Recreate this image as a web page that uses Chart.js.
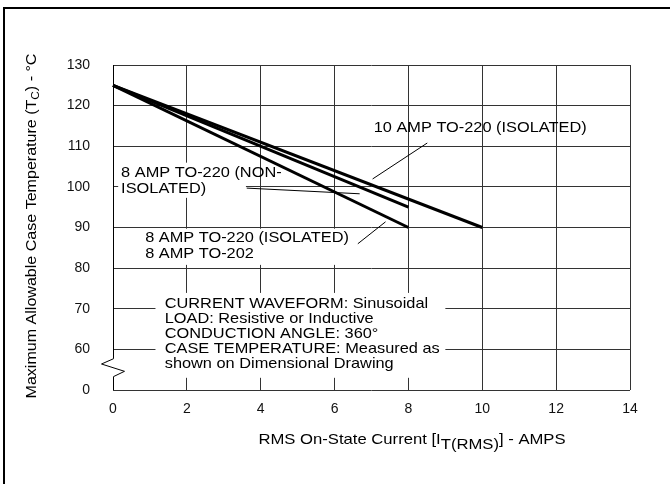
<!DOCTYPE html>
<html>
<head>
<meta charset="utf-8">
<script src="https://cdn.jsdelivr.net/npm/chart.js@4"></script>
<style>
  html, body { margin: 0; padding: 0; background: #fff; }
  #wrap { width: 670px; height: 484px; }
</style>
</head>
<body>
<div id="wrap"><canvas id="chart" width="670" height="484"></canvas></div>
<script>
// ---- data ----
const amps8 = [0, 8];
const amps10 = [0, 10];
const temp8Isolated = [125, 90];     // 8 AMP TO-220 (ISOLATED) / TO-202
const temp8NonIsolated = [125, 95];  // 8 AMP TO-220 (NON-ISOLATED)
const temp10Isolated = [125, 90];    // 10 AMP TO-220 (ISOLATED)
const xTicks = [0, 2, 4, 6, 8, 10, 12, 14];
const yTicks = [50, 60, 70, 80, 90, 100, 110, 120, 130];
const yTickLabels = ['0', '60', '70', '80', '90', '100', '110', '120', '130']; // axis is broken below 60

const notes = [
  'CURRENT WAVEFORM: Sinusoidal',
  'LOAD: Resistive or Inductive',
  'CONDUCTION ANGLE: 360°',
  'CASE TEMPERATURE: Measured as',
  'shown on Dimensional Drawing'
];

const FONT = '"Liberation Sans", Arial, sans-serif';

function toPoints(xs, ys) {
  return xs.map((x, i) => ({ x: x, y: ys[i] }));
}

// stretched text helper (reference type is a bit wider than Arial)
function stretchText(ctx, text, x, y, sx) {
  ctx.save();
  ctx.translate(x, y);
  ctx.scale(sx, 1);
  ctx.fillText(text, 0, 0);
  ctx.restore();
}

/** ---------------- labels, boxes, axis break ---------------- **/
const decorPlugin = {
  id: 'decor',
  beforeDatasetsDraw(chart) {
    const { ctx, scales: { x, y } } = chart;
    const px = v => x.getPixelForValue(v);
    const py = v => y.getPixelForValue(v);

    // white boxes behind labels (hide grid)
    ctx.save();
    ctx.fillStyle = '#fff';
    [[0.14, 105.96, 3.6, 97.3], [0.74, 89.7, 6.47, 80.8], [1.15, 73.9, 9.0, 53.0]].forEach(b => {
      ctx.fillRect(px(b[0]), py(b[1]), px(b[2]) - px(b[0]), py(b[3]) - py(b[1]));
    });

    // left axis with break
    ctx.strokeStyle = '#000';
    ctx.lineWidth = 1;
    ctx.beginPath();
    const ax = Math.round(px(0)) + 0.5;
    ctx.moveTo(ax, py(130));
    ctx.lineTo(ax, py(57.7));
    ctx.lineTo(ax - 12, py(56.4));
    ctx.lineTo(ax + 11, py(54.6));
    ctx.lineTo(ax, py(53.3));
    ctx.lineTo(ax, py(50));
    ctx.stroke();

    // leader lines
    [[8.51, 110.8, 7.03, 101.95], [3.62, 99.7, 6.68, 98.3], [6.63, 86.0, 7.38, 91.4]].forEach(l => {
      ctx.beginPath();
      ctx.moveTo(px(l[0]), py(l[1]));
      ctx.lineTo(px(l[2]), py(l[3]));
      ctx.stroke();
    });

    // label text
    ctx.fillStyle = '#000';
    ctx.font = '15px ' + FONT;
    ctx.textBaseline = 'middle';
    ctx.textAlign = 'left';
    const sx = 1.09;
    stretchText(ctx, '10 AMP TO-220 (ISOLATED)', px(7.06), py(114.6), sx);
    stretchText(ctx, '8 AMP TO-220 (NON-', px(0.22), py(103.5), sx);
    stretchText(ctx, 'ISOLATED)', px(0.22), py(99.6), sx);
    stretchText(ctx, '8 AMP TO-220 (ISOLATED)', px(0.87), py(87.5), sx);
    stretchText(ctx, '8 AMP TO-202', px(0.87), py(83.6), sx);
    notes.forEach((t, i) => stretchText(ctx, t, px(1.4), py(71.2) + i * 15, sx));
    ctx.restore();
  },
  afterDraw(chart) {
    const { ctx } = chart;
    ctx.save();
    // outer frame (left + top only visible)
    ctx.strokeStyle = '#000';
    ctx.lineWidth = 2;
    ctx.beginPath();
    ctx.moveTo(4, 484);
    ctx.lineTo(4, 8);
    ctx.lineTo(670, 8);
    ctx.stroke();

    ctx.fillStyle = '#000';
    ctx.textBaseline = 'middle';

    // y title with subscript
    ctx.save();
    ctx.translate(32, 226);
    ctx.rotate(-Math.PI / 2);
    ctx.scale(1.07, 1);
    const yParts = [['Maximum Allowable Case Temperature (T', 15, 0], ['C', 11, 4], [') - °C', 15, 0]];
    let w = 0;
    yParts.forEach(p => { ctx.font = p[1] + 'px ' + FONT; w += ctx.measureText(p[0]).width; });
    let cx = -w / 2;
    yParts.forEach(p => {
      ctx.font = p[1] + 'px ' + FONT;
      ctx.fillText(p[0], cx, p[2]);
      cx += ctx.measureText(p[0]).width;
    });
    ctx.restore();

    // x title with subscript
    ctx.save();
    ctx.translate(412, 440);
    ctx.scale(1.11, 1);
    const xParts = [['RMS On-State Current [I', 15, 0], ['T(RMS)', 15, 5], ['] - AMPS', 15, 0]];
    w = 0;
    xParts.forEach(p => { ctx.font = p[1] + 'px ' + FONT; w += ctx.measureText(p[0]).width; });
    cx = -w / 2;
    xParts.forEach(p => {
      ctx.font = p[1] + 'px ' + FONT;
      ctx.fillText(p[0], cx, p[2]);
      cx += ctx.measureText(p[0]).width;
    });
    ctx.restore();
    ctx.restore();
  }
};

const lineStyle = { showLine: true, borderColor: '#000', borderWidth: 3, pointRadius: 0, clip: false };

new Chart(document.getElementById('chart'), {
  type: 'scatter',
  data: {
    datasets: [
      Object.assign({ label: '10 AMP TO-220 (ISOLATED)', data: toPoints(amps10, temp10Isolated) }, lineStyle),
      Object.assign({ label: '8 AMP TO-220 (NON-ISOLATED)', data: toPoints(amps8, temp8NonIsolated) }, lineStyle),
      Object.assign({ label: '8 AMP TO-220 (ISOLATED)', data: toPoints(amps8, temp8Isolated) }, lineStyle)
    ]
  },
  options: {
    responsive: false,
    animation: false,
    layout: { padding: { top: 65, right: 40, left: 0, bottom: 0 } },
    plugins: { legend: { display: false }, tooltip: { enabled: false } },
    scales: {
      x: {
        type: 'linear',
        min: xTicks[0],
        max: xTicks[xTicks.length - 1],
        afterBuildTicks: s => { s.ticks = xTicks.map(v => ({ value: v })); },
        ticks: { padding: 11, color: '#111', font: { size: 14, family: FONT } },
        grid: { drawTicks: false, color: c => (c.tick && c.tick.value === 0) ? 'rgba(0,0,0,0)' : '#333' },
        border: { display: false },
        afterFit: s => { s.height = 94; }
      },
      y: {
        min: yTicks[0],
        max: yTicks[yTicks.length - 1],
        afterBuildTicks: s => { s.ticks = yTicks.map(v => ({ value: v })); },
        ticks: {
          padding: 23, color: '#111', font: { size: 14, family: FONT },
          callback: v => yTickLabels[yTicks.indexOf(v)]
        },
        grid: { drawTicks: false, color: '#333' },
        border: { display: false },
        afterFit: s => { s.width = 113; }
      }
    }
  },
  plugins: [decorPlugin]
});
</script>
</body>
</html>
